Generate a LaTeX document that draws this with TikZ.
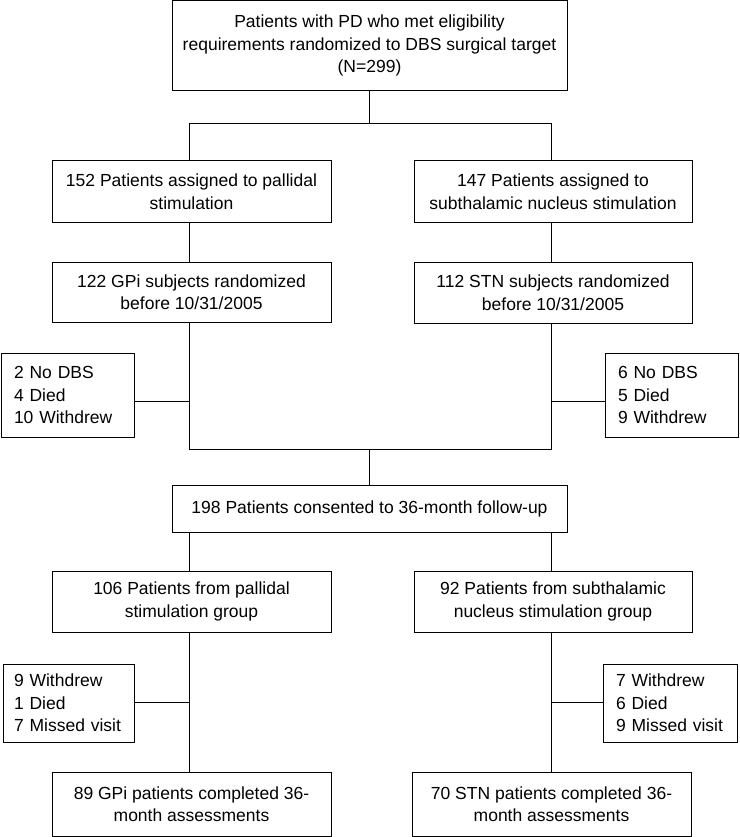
\documentclass[tikz,border=0pt]{standalone}
\usepackage{fontspec}
\setmainfont{Liberation Sans}
\usetikzlibrary{calc}
\tikzset{box/.style={draw, line width=1pt, inner sep=0pt, align=center,
        font=\fontsize{17.5}{22.5}\selectfont},
    sidebox/.style={draw, line width=1pt, inner xsep=13pt, inner ysep=0pt,
        align=left, font=\fontsize{17.5}{22.5}\selectfont},
    link/.style={line width=1pt}}

\begin{document}
\begin{tikzpicture}[x=1pt,y=-1pt]
    \useasboundingbox (0,0) rectangle (739,837);

    \node[box,minimum width=395pt,minimum height=90pt] (top) at (369.5,45.5)
    {Patients with PD who met eligibility\\requirements randomized to DBS surgical target\\(N=299)};

    \node[box,minimum width=279pt,minimum height=61pt] (pall) at (191.5,191.5)
    {152 Patients assigned to pallidal\\stimulation};
    \node[box,minimum width=278pt,minimum height=61pt] (subth) at (553,191.5)
    {147 Patients assigned to\\subthalamic nucleus stimulation};

    \node[box,minimum width=279pt,minimum height=60pt] (gpi) at (191.5,292)
    {122 GPi subjects randomized\\before 10/31/2005};
    \node[box,minimum width=278pt,minimum height=61pt] (stn) at (553,292.5)
    {112 STN subjects randomized\\before 10/31/2005};

    \node[sidebox,text width=107pt,minimum height=84pt] (exgpi) at (67.5,395)
    {2 No DBS\\4 Died\\10 Withdrew};
    \node[sidebox,text width=107pt,minimum height=84pt] (exstn) at (671.5,395)
    {6 No DBS\\5 Died\\9 Withdrew};

    \node[box,minimum width=395pt,minimum height=47pt] (consent) at (369.5,508.5)
    {198 Patients consented to 36-month follow-up};

    \node[box,minimum width=279pt,minimum height=61pt] (pallgrp) at (191.5,601.5)
    {106 Patients from pallidal\\stimulation group};
    \node[box,minimum width=278pt,minimum height=61pt] (stngrp) at (553,601.5)
    {92 Patients from subthalamic\\nucleus stimulation group};

    \node[sidebox,inner xsep=11pt,text width=109pt,minimum height=78pt] (lostgpi) at (68.5,703)
    {9 Withdrew\\1 Died\\7 Missed visit};
    \node[sidebox,text width=108pt,minimum height=78pt] (loststn) at (670,703)
    {7 Withdrew\\6 Died\\9 Missed visit};

    \node[box,minimum width=279pt,minimum height=64pt] (donegpi) at (191.5,804)
    {89 GPi patients completed 36-\\month assessments};
    \node[box,minimum width=279pt,minimum height=64pt] (donestn) at (551.5,804)
    {70 STN patients completed 36-\\month assessments};

    % junctions
    \coordinate (sL) at (189,124);
    \coordinate (sR) at (551,124);
    \coordinate (mL) at (189,449);
    \coordinate (mR) at (551,449);
    \coordinate (jL) at (189,401);
    \coordinate (jR) at (551,401);
    \coordinate (kL) at (189,702);
    \coordinate (kR) at (551,702);

    \draw[link] (top.south) -- (top.south |- sL);
    \draw[link] (pall.north -| sL) -- (sL) -- (sR) -- (subth.north -| sR);
    \draw[link] (pall.south -| sL) -- (gpi.north -| sL);
    \draw[link] (subth.south -| sR) -- (stn.north -| sR);
    \draw[link] (gpi.south -| sL) -- (mL) -- (mR) -- (stn.south -| sR);
    \draw[link] (exgpi.east |- jL) -- (jL);
    \draw[link] (exstn.west |- jR) -- (jR);
    \draw[link] (consent.north |- mL) -- (consent.north);
    \draw[link] (consent.south -| sL) -- (pallgrp.north -| sL);
    \draw[link] (consent.south -| sR) -- (stngrp.north -| sR);
    \draw[link] (pallgrp.south -| sL) -- (donegpi.north -| sL);
    \draw[link] (stngrp.south -| sR) -- (donestn.north -| sR);
    \draw[link] (lostgpi.east |- kL) -- (kL);
    \draw[link] (loststn.west |- kR) -- (kR);
\end{tikzpicture}
\end{document}
